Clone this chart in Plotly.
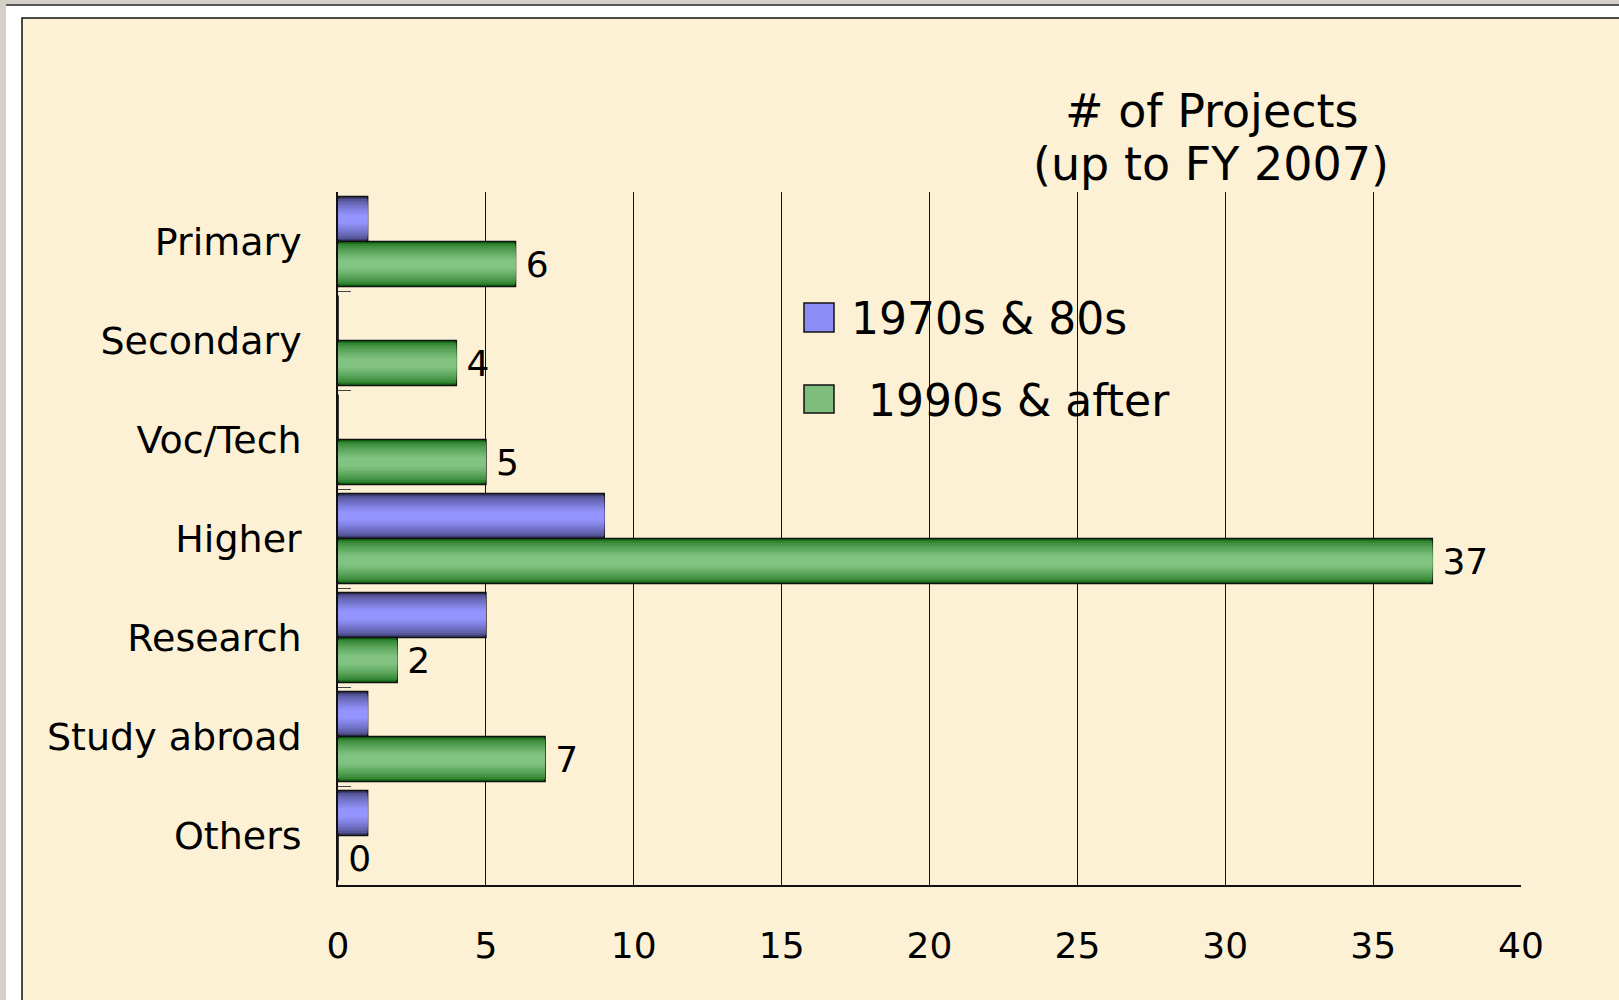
import plotly.graph_objects as go

categories = ['Primary', 'Secondary', 'Voc/Tech', 'Higher', 'Research', 'Study abroad', 'Others']
projects_70s_80s = [1, 0, 0, 9, 5, 1, 1]
projects_90s_after = [6, 4, 5, 37, 2, 7, 0]
series_names = ['1970s & 80s', '1990s & after']
title_lines = ['# of Projects', '(up to FY 2007)']
x_ticks = [0, 5, 10, 15, 20, 25, 30, 35, 40]

FONT = 'DejaVu Sans'
CREAM = '#FCF1D5'

# plot area in pixels
L, R, T, B = 338, 1521, 192, 885
W, H = R - L, B - T


def fx(px):
    return (px - L) / W


def fy(py):
    return (B - py) / H


def mix(c1, c2, t):
    return 'rgb(%d,%d,%d)' % tuple(round(a + (b - a) * t) for a, b in zip(c1, c2))


bar_h = 0.455
n_layers = 9
fig = go.Figure()

series = [
    (projects_70s_80s, -bar_h, (58, 58, 108), (148, 148, 255)),
    (projects_90s_after, 0.0, (20, 110, 20), (130, 195, 130)),
]

# each bar is a few stacked layers to fake the shaded look
for s, (vals, off, edge, center) in enumerate(series):
    for k in range(n_layers):
        t = k / (n_layers - 1)
        inset = bar_h * 0.40 * t
        first = k == 0
        labelled = first and s == 1
        fig.add_trace(go.Bar(
            y=categories,
            x=vals,
            orientation='h',
            offset=off + inset,
            width=bar_h - 2 * inset,
            marker=dict(
                color=mix(edge, center, t ** 0.6),
                line=dict(color='#111111', width=1.6 if first else 0)
            ),
            text=vals if labelled else None,
            texttemplate='\u2009%{x}' if labelled else None,
            textposition='outside' if labelled else None,
            textfont=dict(family=FONT, size=36, color='black'),
            cliponaxis=False,
            name=series_names[s],
            showlegend=False,
            hoverinfo='x+y' if first else 'skip'
        ))

shapes = [
    # window frame
    dict(type='rect', xref='paper', yref='paper', x0=fx(0), x1=fx(6), y0=fy(0), y1=fy(1000),
         fillcolor='#D4D0C8', line=dict(width=0), layer='below'),
    dict(type='rect', xref='paper', yref='paper', x0=fx(0), x1=fx(1619), y0=fy(0), y1=fy(4),
         fillcolor='#D4D0C8', line=dict(width=0), layer='below'),
    dict(type='line', xref='paper', yref='paper', x0=fx(6), x1=fx(1619), y0=fy(5), y1=fy(5),
         line=dict(color='#222222', width=1.5), layer='below'),
    dict(type='rect', xref='paper', yref='paper', x0=fx(22), x1=fx(1660), y0=fy(18), y1=fy(1040),
         fillcolor=CREAM, line=dict(color='#111111', width=1.5), layer='below'),
    # legend box hides the gridlines
    dict(type='rect', xref='paper', yref='paper', x0=fx(790), x1=fx(1262), y0=fy(272), y1=fy(435),
         fillcolor=CREAM, line=dict(width=0), layer='between'),
    # legend swatches
    dict(type='rect', xref='paper', yref='paper', x0=fx(804), x1=fx(834), y0=fy(303), y1=fy(332),
         fillcolor='#8C8CF5', line=dict(color='#111111', width=1.5)),
    dict(type='rect', xref='paper', yref='paper', x0=fx(804), x1=fx(834), y0=fy(385), y1=fy(413),
         fillcolor='#7DBE7D', line=dict(color='#111111', width=1.5)),
]

annotations = [
    dict(text=title_lines[0], xref='paper', yref='paper',
         x=fx(1211), y=fy(111), xanchor='center', yanchor='middle', showarrow=False,
         font=dict(family=FONT, size=46, color='black')),
    dict(text=title_lines[1], xref='paper', yref='paper',
         x=fx(1211), y=fy(164), xanchor='center', yanchor='middle', showarrow=False,
         font=dict(family=FONT, size=46, color='black')),
    dict(text=series_names[0], xref='paper', yref='paper', x=fx(849), y=fy(318),
         xanchor='left', yanchor='middle', showarrow=False,
         font=dict(family=FONT, size=44, color='black')),
    dict(text=series_names[1], xref='paper', yref='paper', x=fx(866), y=fy(400),
         xanchor='left', yanchor='middle', showarrow=False,
         font=dict(family=FONT, size=44, color='black')),
]

fig.update_layout(
    width=1619,
    height=1000,
    margin=dict(l=L, r=1619 - R, t=T, b=1000 - B, pad=0),
    paper_bgcolor='white',
    plot_bgcolor='rgba(0,0,0,0)',
    barmode='overlay',
    showlegend=False,
    shapes=shapes,
    annotations=annotations,
    xaxis=dict(
        range=[0, 40],
        tickvals=x_ticks,
        tickfont=dict(family=FONT, size=36, color='black'),
        showgrid=True,
        gridcolor='#111111',
        gridwidth=1,
        zeroline=False,
        showline=True,
        linecolor='#111111',
        linewidth=1.5,
        ticks='',
        ticklabelstandoff=28,
        fixedrange=True
    ),
    yaxis=dict(
        type='category',
        categoryorder='array',
        categoryarray=categories,
        autorange='reversed',
        tickfont=dict(family=FONT, size=38, color='black'),
        showgrid=False,
        zeroline=False,
        showline=True,
        linecolor='#111111',
        linewidth=1.5,
        ticks='inside',
        tickson='boundaries',
        ticklen=13,
        tickcolor='#444444',
        ticklabelstandoff=27,
        fixedrange=True
    )
)

fig.write_html("out.html", config={'displayModeBar': False},
               post_script="document.body.style.margin='0';document.body.style.overflow='hidden';")
